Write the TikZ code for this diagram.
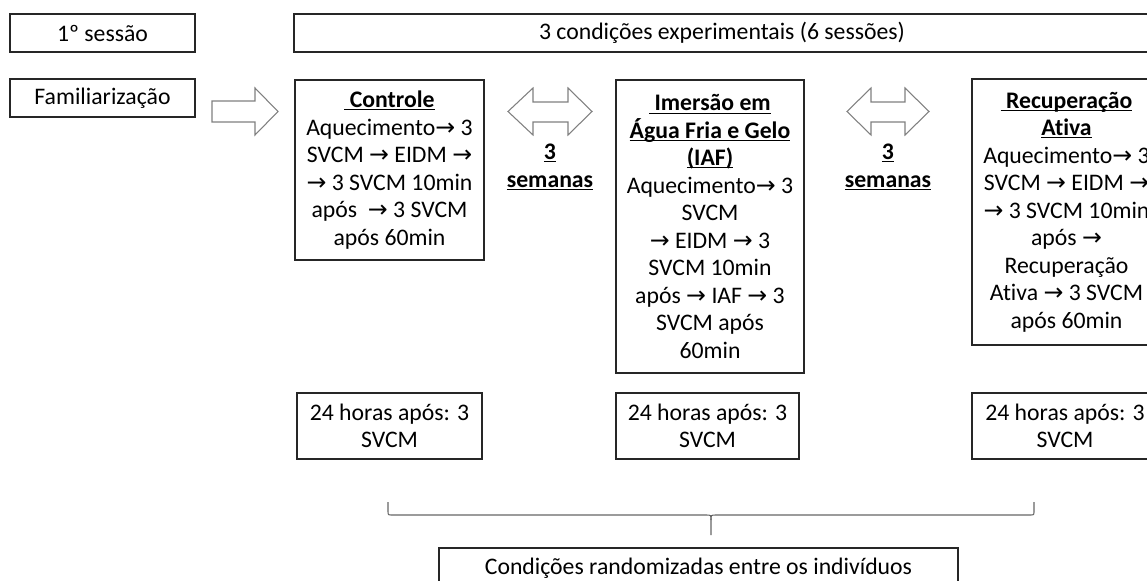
\documentclass[tikz,border=0pt]{standalone}
\usepackage{fontspec}
\setmainfont{Carlito}[Ligatures=NoCommon]
\newfontfamily\arrowfont{DejaVu Sans}
\usepackage{tikz}

\newlength\px
\setlength\px{0.75pt}
\newcommand{\ra}{{\arrowfont\char"2192}}
\newcommand{\ul}[1]{\underline{\smash{#1}}\vphantom{#1}}

\begin{document}
\begin{tikzpicture}[x=0.75pt,y=-0.75pt,
    box/.style={draw=black!85,line width=0.8pt,align=center,inner sep=0pt},
    blockarrow/.style={draw=black!50,line width=0.8pt,fill=white,line join=miter},
    bracket/.style={draw=black!60,line width=0.8pt}]
    \tikzstyle{every node}=[font=\fontsize{17.8}{20.6}\selectfont]
    \useasboundingbox (0,0) rectangle (1147,581);
    \clip (0,0) rectangle (1147,581);

    % top row
    \node[box,minimum width=185\px,minimum height=38\px] (sessao) at (102.5,33) {1º sessão};
    \node[box,minimum width=856\px,minimum height=38\px] (condicoes) at (722,33) {3 condições experimentais (6 sessões)};
    \node[box,minimum width=185\px,minimum height=38\px] (famil) at (102.5,98) {Familiarização};

    % conditions
    \node[box,minimum width=189\px,minimum height=180\px] (controle) at (389.5,170) {
        {\bfseries\ul{\ Controle}}\\
        Aquecimento\ra{} 3\\
        SVCM \ra{} EIDM \ra\\
        \ra{} 3 SVCM 10min\\
        após ~\ra{} 3 SVCM\\
        após 60min};
    \node[box,minimum width=188\px,minimum height=293\px] (iaf) at (710,226.5) {
        {\bfseries\ul{\ Imersão em}}\\
        {\bfseries\ul{Água Fria e Gelo}}\\
        {\bfseries\ul{(IAF)}}\\
        Aquecimento\ra{} 3\\
        SVCM\\
        \ra{} EIDM \ra{} 3\\
        SVCM 10min\\
        após \ra{} IAF \ra{} 3\\
        SVCM após\\
        60min};
    \node[box,minimum width=189\px,minimum height=266\px] (recup) at (1066.5,212) {
        {\bfseries\ul{\ Recuperação}}\\
        {\bfseries\ul{Ativa}}\\
        Aquecimento\ra{} 3\\
        SVCM \ra{} EIDM \ra\\
        \ra{} 3 SVCM 10min\\
        após \ra\\
        Recuperação\\
        Ativa \ra{} 3 SVCM\\
        após 60min};

    % 3 semanas
    \node[align=center,font=\fontsize{17.8}{20.6}\selectfont\bfseries] (semanasA) at (550,167) {\ul{3}\\\ul{semanas}};
    \node[align=center,font=\fontsize{17.8}{20.6}\selectfont\bfseries] (semanasB) at (888,167) {\ul{3}\\\ul{semanas}};

    % block arrows
    \draw[blockarrow] (212,101) -- (255,101) -- (255,88) -- (278,111.5) -- (255,135) -- (255,122) -- (212,122) -- cycle;
    \draw[blockarrow] (508,111.5) -- (533,88) -- (533,102) -- (568,102) -- (568,88) -- (592,111.5)
        -- (568,135) -- (568,122) -- (533,122) -- (533,135) -- cycle;
    \draw[blockarrow] (847,111.5) -- (871,88) -- (871,102) -- (905,102) -- (905,88) -- (929,111.5)
        -- (905,135) -- (905,122) -- (871,122) -- (871,135) -- cycle;

    % 24 horas
    \node[box,minimum width=185\px,minimum height=66\px] (horasA) at (389.5,426) {24 horas após: 3\\SVCM};
    \node[box,minimum width=183\px,minimum height=66\px] (horasB) at (707.5,426) {24 horas após: 3\\SVCM};
    \node[box,minimum width=186\px,minimum height=66\px] (horasC) at (1065,426) {24 horas após: 3\\SVCM};

    % brace
    \coordinate (braceL) at (388,502);
    \coordinate (braceR) at (1034,502);
    \coordinate (braceM) at (711,535);
    \draw[bracket] (braceL) -- (388,511) .. controls (388,515) .. (392,515) -- (706,515)
        .. controls (711,515) .. (711,520) -- (braceM);
    \draw[bracket] (braceR) -- (1034,511) .. controls (1034,515) .. (1030,515) -- (716,515)
        .. controls (711,515) .. (711,520);

    \node[box,minimum width=519\px,minimum height=40\px] (random) at (698.5,568) {Condições randomizadas entre os indivíduos};
\end{tikzpicture}
\end{document}
